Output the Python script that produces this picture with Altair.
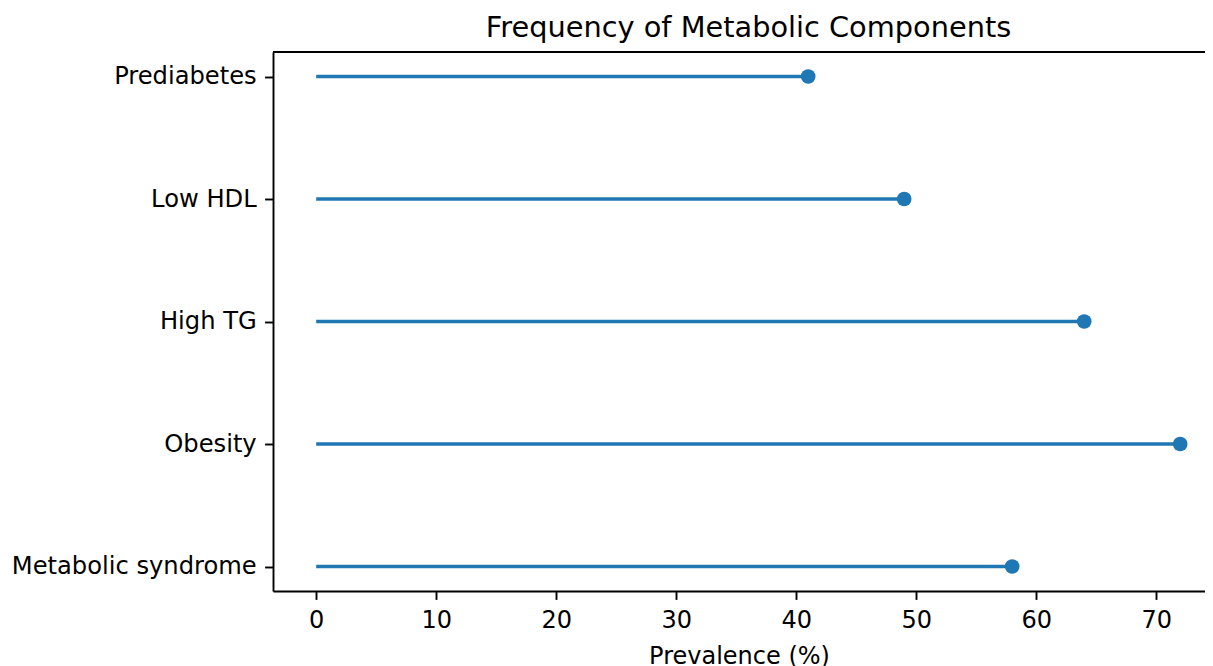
import altair as alt
import pandas as pd

categories = ["Prediabetes", "Low HDL", "High TG", "Obesity", "Metabolic syndrome"]
values = [41, 49, 64, 72, 58]
x_ticks = [0, 10, 20, 30, 40, 50, 60, 70]

df = pd.DataFrame({"component": categories, "prevalence": values})

FONT = "DejaVu Sans"
BLUE = "#1f77b4"
W, H = 932, 539
x_lo = -3.6
x_hi = x_lo + W / 12.0

xs = alt.Scale(domain=[x_lo, x_hi], nice=False, zero=False)
ys = alt.Scale(type="point", padding=0.2)

x_axis = alt.Axis(values=x_ticks, grid=False, tickSize=8.4, tickWidth=1.9, tickColor="black",
                  domainColor="black", domainWidth=1.9, labelFont=FONT, labelFontSize=24,
                  labelColor="black", labelPadding=9, title="Prevalence (%)", titleFont=FONT,
                  titleFontSize=24, titleFontWeight="normal", titleColor="black", titlePadding=12)
y_axis = alt.Axis(grid=False, tickSize=8.4, tickWidth=1.9, tickColor="black",
                  domainColor="black", domainWidth=1.9, labelFont=FONT, labelFontSize=24.2,
                  labelColor="black", labelPadding=8.4, title=None, labelLimit=400)

base = alt.Chart(df)

stems = base.mark_rule(color=BLUE, strokeWidth=3.6).encode(
    x=alt.X("prevalence:Q", scale=xs, axis=x_axis),
    x2=alt.datum(0),
    y=alt.Y("component:N", sort=categories, scale=ys, axis=y_axis),
)

dots = base.mark_circle(color=BLUE, size=215, opacity=1).encode(
    x=alt.X("prevalence:Q", scale=xs),
    y=alt.Y("component:N", sort=categories, scale=ys),
)

top_spine = alt.Chart(pd.DataFrame({"a": [0]})).mark_rule(color="black", strokeWidth=1.9).encode(
    x=alt.value(0), x2=alt.value(W), y=alt.value(0), y2=alt.value(0)
)

chart = alt.layer(stems, dots, top_spine).properties(
    width=W, height=H,
    title=alt.TitleParams("Frequency of Metabolic Components", font=FONT, fontSize=28.8,
                          fontWeight="normal", color="black", anchor="middle",
                          offset=8, dx=9.5),
    autosize=alt.AutoSizeParams(type="none"),
    padding={"left": 265, "top": 44, "right": 0, "bottom": 75},
).configure(background="white").configure_view(strokeOpacity=0, strokeWidth=0)

chart.save("out.html", embed_options={"renderer": "svg", "actions": False})
